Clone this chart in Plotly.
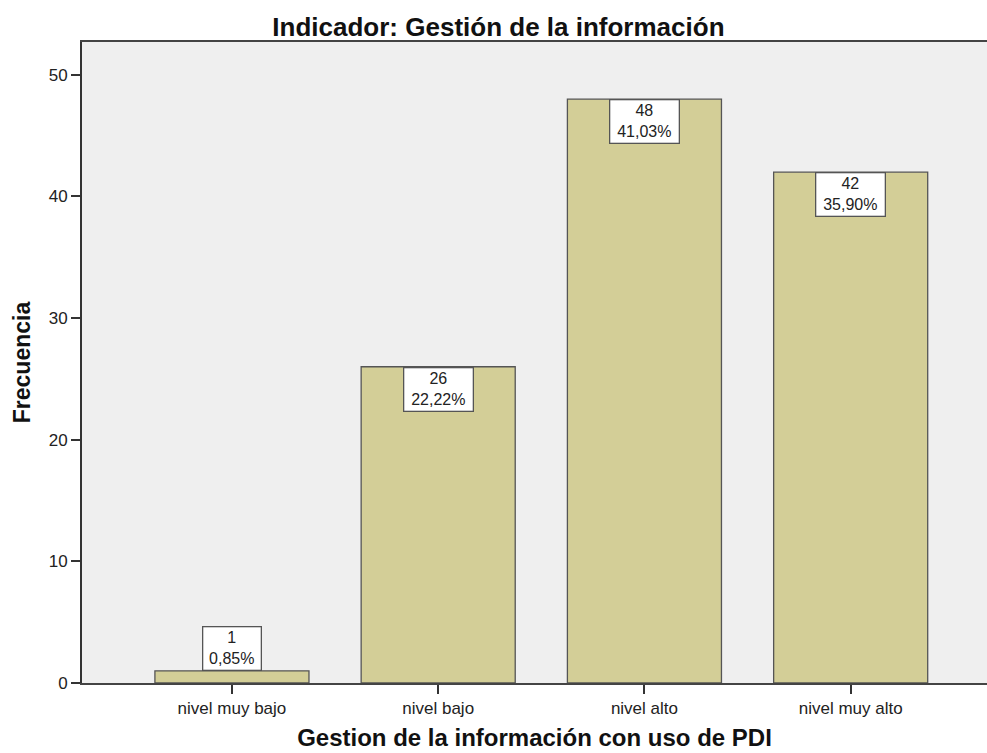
import plotly.graph_objects as go

categories = ["nivel muy bajo", "nivel bajo", "nivel alto", "nivel muy alto"]
frecuencia = [1, 26, 48, 42]
porcentaje = ["0,85%", "22,22%", "41,03%", "35,90%"]
y_ticks = [0, 10, 20, 30, 40, 50]

BAR_COLOR = "#D3CE97"
TEXT_COLOR = "#222222"
FONT = "Liberation Sans, Arial"

fig = go.Figure()

fig.add_trace(
    go.Bar(
        x=categories,
        y=frecuencia,
        width=0.747,
        marker={"color": BAR_COLOR, "line": {"color": "#555555", "width": 1.3}},
        showlegend=False,
        hoverinfo="skip",
    )
)

# etiquetas blancas con frecuencia y porcentaje
for cat, val, pct in zip(categories, frecuencia, porcentaje):
    inside = val > 5
    fig.add_annotation(
        x=cat,
        y=val,
        text=f"{val}<br>{pct}",
        showarrow=False,
        yanchor="top" if inside else "bottom",
        xanchor="center",
        width=11 * len(pct),
        height=40,
        bgcolor="white",
        bordercolor="#555555",
        borderwidth=1.3,
        borderpad=1,
        font={"family": FONT, "size": 16, "color": TEXT_COLOR},
    )

fig.update_layout(
    width=987,
    height=753,
    margin={"l": 82, "r": 0, "t": 42, "b": 70},
    paper_bgcolor="white",
    plot_bgcolor="#EFEFEF",
    title={
        "text": "<b>Indicador: Gestión de la información</b>",
        "x": 0.505,
        "xanchor": "center",
        "y": 0.964,
        "yanchor": "middle",
        "font": {"family": FONT, "size": 26, "color": "#111111"},
    },
    font={"family": FONT, "color": TEXT_COLOR},
)

fig.update_xaxes(
    range=[-0.727, 3.661],
    automargin=False,
    showline=True,
    linecolor="#444444",
    linewidth=2,
    mirror=True,
    ticks="outside",
    ticklen=9,
    tickwidth=1.5,
    tickcolor="#333333",
    tickfont={"size": 17, "color": TEXT_COLOR},
    showgrid=False,
    title={
        "text": "<b>Gestion de la información con uso de PDI</b>",
        "font": {"size": 24, "color": "#111111"},
        "standoff": 12,
    },
)

fig.update_yaxes(
    range=[0, 52.7],
    automargin=False,
    tickvals=y_ticks,
    showline=True,
    linecolor="#333333",
    linewidth=2,
    ticks="outside",
    ticklen=9,
    tickwidth=1.5,
    tickcolor="#333333",
    tickfont={"size": 17, "color": TEXT_COLOR},
    showgrid=False,
    zeroline=False,
    title={
        "text": "<b>Frecuencia</b>",
        "font": {"size": 23, "color": "#111111"},
        "standoff": 12,
    },
)

# sin margen del body para que la figura ocupe exactamente la ventana
fig.write_html(
    "out.html",
    config={"displayModeBar": False},
    post_script="document.body.style.margin='0';document.body.style.overflow='hidden';",
)
